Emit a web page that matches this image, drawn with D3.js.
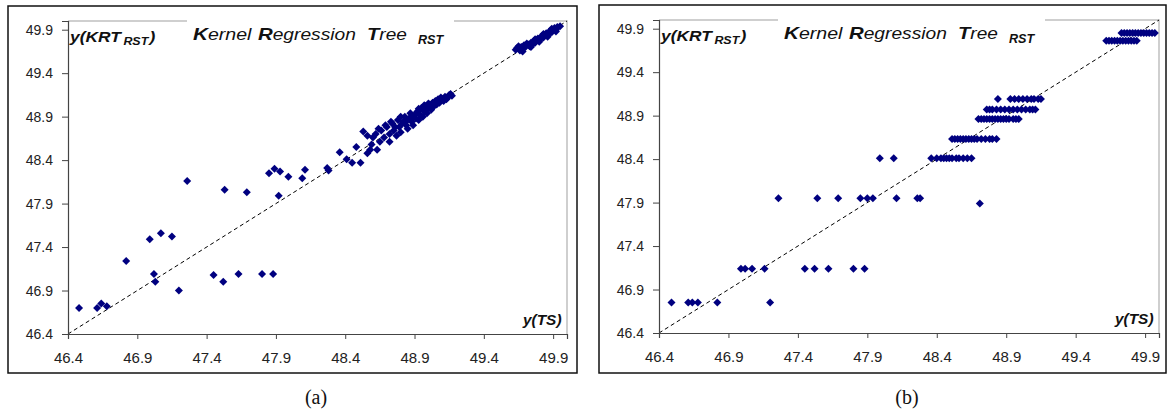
<!DOCTYPE html>
<html>
<head>
<meta charset="utf-8">
<script src="https://cdn.jsdelivr.net/npm/d3@7"></script>
<style>
  body { margin: 0; background: #fff; }
  svg text { font-family: "Liberation Sans", Arial, sans-serif; }
</style>
</head>
<body>
<div id="wrapper"></div>
<script>
// tick labels, shared by both axes of both panels
const tickValues = [46.4, 46.9, 47.4, 47.9, 48.4, 48.9, 49.4, 49.9]
const axisDomain = [46.4, 50.0]

// (a) pairs of [y(TS), y(KRT_RST)]
const pointsA = [
  [46.48, 46.70], [46.61, 46.70], [46.64, 46.75], [46.68, 46.72],
  [46.82, 47.24], [46.99, 47.49], [47.07, 47.56], [47.15, 47.52],
  [47.02, 47.09], [47.03, 47.00], [47.20, 46.90], [47.26, 48.16],
  [47.45, 47.08], [47.52, 47.00], [47.63, 47.09], [47.80, 47.09], [47.88, 47.09],
  [47.53, 48.06], [47.69, 48.03], [47.85, 48.25], [47.89, 48.30], [47.93, 48.27],
  [47.99, 48.21], [47.92, 47.99], [48.09, 48.19], [48.11, 48.29],
  [48.27, 48.31], [48.28, 48.28], [48.36, 48.49], [48.41, 48.41], [48.45, 48.37],
  [48.51, 48.37], [48.48, 48.55], [48.56, 48.48], [48.58, 48.52], [48.63, 48.52],
  [48.59, 48.58], [48.65, 48.61], [48.72, 48.61],
  // dense middle band
  [48.53, 48.73], [48.56, 48.68], [48.60, 48.66], [48.62, 48.70], [48.64, 48.76],
  [48.66, 48.74], [48.68, 48.66], [48.69, 48.80], [48.70, 48.78], [48.72, 48.70],
  [48.73, 48.84], [48.74, 48.82], [48.75, 48.74], [48.76, 48.78], [48.77, 48.68],
  [48.78, 48.86], [48.79, 48.78], [48.80, 48.72], [48.80, 48.90], [48.81, 48.82],
  [48.82, 48.84], [48.83, 48.90], [48.84, 48.80], [48.85, 48.76], [48.85, 48.86],
  [48.86, 48.88], [48.87, 48.94], [48.88, 48.84], [48.89, 48.80], [48.89, 48.90],
  [48.90, 48.92], [48.91, 48.88], [48.92, 48.96], [48.93, 48.86], [48.93, 48.99],
  [48.94, 48.92], [48.95, 49.00], [48.96, 48.90], [48.97, 48.96], [48.97, 49.03],
  [48.98, 49.02], [48.99, 48.94], [49.00, 49.00], [49.00, 49.05], [49.01, 49.04],
  [49.02, 48.98], [49.03, 49.06], [49.04, 49.02], [49.05, 49.08], [49.06, 49.04],
  [49.07, 49.10], [49.08, 49.06], [49.09, 49.12], [49.10, 49.10], [49.11, 49.08],
  [49.12, 49.13], [49.13, 49.10], [49.14, 49.12], [49.15, 49.15], [49.16, 49.16],
  [49.17, 49.14],
  // upper cluster
  [49.63, 49.67], [49.64, 49.69], [49.66, 49.66], [49.67, 49.70], [49.68, 49.68],
  [49.69, 49.72], [49.70, 49.70], [49.72, 49.73], [49.73, 49.71], [49.74, 49.75],
  [49.75, 49.73], [49.76, 49.77], [49.77, 49.75], [49.78, 49.78], [49.79, 49.80],
  [49.80, 49.78], [49.81, 49.81], [49.82, 49.83], [49.83, 49.81], [49.84, 49.84],
  [49.85, 49.86], [49.86, 49.84], [49.87, 49.87], [49.88, 49.89], [49.89, 49.87],
  [49.90, 49.90], [49.91, 49.92], [49.92, 49.90], [49.93, 49.93], [49.95, 49.94],
  [49.65, 49.71], [49.68, 49.65], [49.71, 49.74], [49.74, 49.70], [49.77, 49.79],
  [49.80, 49.76], [49.83, 49.85], [49.86, 49.82], [49.89, 49.91], [49.92, 49.88]
]

// (b) rows of equal y(KRT_RST): each row lists its y(TS) values
const rowsB = [
  { y: 46.75, xs: [46.49, 46.61, 46.64, 46.68, 46.82, 47.20] },
  { y: 47.14, xs: [46.99, 47.02, 47.07, 47.16, 47.45, 47.52, 47.62, 47.80, 47.88] },
  { y: 47.89, xs: [48.71] },
  { y: 47.95, xs: [47.26, 47.54, 47.69, 47.85, 47.90, 47.94, 48.11, 48.26, 48.28] },
  { y: 48.41, xs: [47.99, 48.09, 48.36, 48.40, 48.43, 48.45, 48.47, 48.49, 48.51, 48.54, 48.56, 48.59, 48.62, 48.65] },
  { y: 48.63, xs: [48.51, 48.53, 48.55, 48.57, 48.59, 48.61, 48.63, 48.65, 48.67, 48.69, 48.72, 48.75, 48.78, 48.80, 48.83] },
  { y: 48.86, xs: [48.70, 48.72, 48.74, 48.76, 48.78, 48.80, 48.82, 48.84, 48.86, 48.88, 48.90, 48.92, 48.95, 48.97, 48.99] },
  { y: 48.97, xs: [48.76, 48.78, 48.80, 48.83, 48.86, 48.89, 48.92, 48.95, 48.98, 49.01, 49.04, 49.07, 49.09, 49.11] },
  { y: 49.09, xs: [48.84, 48.93, 48.96, 48.99, 49.02, 49.05, 49.08, 49.10, 49.13, 49.15] },
  { y: 49.76, xs: [49.62, 49.64, 49.66, 49.68, 49.70, 49.72, 49.74, 49.76, 49.78, 49.80, 49.82, 49.84] },
  { y: 49.85, xs: [49.73, 49.75, 49.77, 49.79, 49.81, 49.83, 49.85, 49.87, 49.89, 49.91, 49.93, 49.95, 49.97] }
]
const pointsB = rowsB.flatMap(r => r.xs.map(x => [x, r.y]))

const captions = ["(a)", "(b)"]

async function drawChart() {
  const width = 1168
  const height = 411

  const wrapper = d3.select("#wrapper")
    .append("svg")
      .attr("width", width)
      .attr("height", height)

  // panel layouts
  const panels = [
    { box: { x: 8, y: 6, w: 569, h: 367 }, plot: { x: 68, y: 21, w: 499, h: 313 }, points: pointsA, caption: captions[0], captionX: 316 },
    { box: { x: 599, y: 5, w: 567, h: 368 }, plot: { x: 659, y: 20, w: 500, h: 313 }, points: pointsB, caption: captions[1], captionX: 907 },
  ]

  panels.forEach(p => drawPanel(wrapper, p))

  // text stretched horizontally to a given width, like the original picture
  function stretchedText(parent, x, y, targetWidth, anchorEnd) {
    const g = parent.append("g")
    const t = g.append("text")
      .attr("fill", "#111")
      .style("font-style", "italic")
    return {
      text: t,
      fit() {
        const w = t.node().getBBox().width
        const sx = targetWidth / w
        const x0 = anchorEnd ? x - targetWidth : x
        g.attr("transform", `translate(${x0}, ${y}) scale(${sx}, 1)`)
      }
    }
  }

  function drawPanel(svg, opt) {
    const { box, plot, points, caption, captionX } = opt

    // outer frame
    svg.append("rect")
      .attr("x", box.x)
      .attr("y", box.y)
      .attr("width", box.w)
      .attr("height", box.h)
      .attr("fill", "none")
      .attr("stroke", "#111")
      .attr("stroke-width", 1.5)

    const bounds = svg.append("g")
      .attr("transform", `translate(${plot.x}, ${plot.y})`)

    const xScale = d3.scaleLinear()
      .domain(axisDomain)
      .range([0, plot.w])
    const yScale = d3.scaleLinear()
      .domain(axisDomain)
      .range([plot.h, 0])

    // gray top and right frame of the plot area
    bounds.append("path")
      .attr("d", `M0,0H${plot.w}V${plot.h}`)
      .attr("fill", "none")
      .attr("stroke", "#c0c0c0")
      .attr("stroke-width", 1.5)

    // diagonal y = x
    bounds.append("line")
      .attr("x1", xScale(axisDomain[0]))
      .attr("y1", yScale(axisDomain[0]))
      .attr("x2", xScale(axisDomain[1]))
      .attr("y2", yScale(axisDomain[1]))
      .attr("stroke", "#000")
      .attr("stroke-width", 1)
      .attr("stroke-dasharray", "4,3")

    // diamonds
    const diamond = d3.symbol(d3.symbolSquare, 32)
    bounds.selectAll(".dot")
      .data(points)
      .join("path")
        .attr("class", "dot")
        .attr("d", diamond)
        .attr("transform", d => `translate(${xScale(d[0])}, ${yScale(d[1])}) rotate(45)`)
        .attr("fill", "#000080")

    // axes
    const fmt = d3.format(".1f")
    const xAxis = bounds.append("g")
      .attr("transform", `translate(0, ${plot.h})`)
      .call(d3.axisBottom(xScale).tickValues(tickValues).tickFormat(fmt).tickSizeOuter(0).tickSize(5).tickPadding(13))
    const yAxis = bounds.append("g")
      .call(d3.axisLeft(yScale).tickValues(tickValues).tickFormat(fmt).tickSizeOuter(0).tickSize(6).tickPadding(9))

    ;[xAxis, yAxis].forEach(a => {
      a.select(".domain").attr("stroke", "#444").attr("stroke-width", 1.2)
      a.selectAll(".tick line").attr("stroke", "#444")
      a.selectAll(".tick text")
        .attr("fill", "#222")
        .style("font-family", "'Liberation Sans', Arial, sans-serif")
    })
    xAxis.selectAll(".tick text").style("font-size", "15px")
    yAxis.selectAll(".tick text").style("font-size", "14px")

    // title, with white background hiding the frame line
    bounds.append("rect")
      .attr("x", 119)
      .attr("y", -8)
      .attr("width", 267)
      .attr("height", 36)
      .attr("fill", "#fff")

    const titleWords = [
      { head: "K", rest: "ernel", x: 125, w: 59 },
      { head: "R", rest: "egression", x: 190, w: 98 },
      { head: "T", rest: "ree", x: 299, w: 40 },
    ]
    titleWords.forEach(word => {
      const s = stretchedText(bounds, word.x, 19, word.w)
      s.text.style("font-size", "16px")
      s.text.append("tspan").style("font-weight", "bold").style("font-size", "17px").text(word.head)
      s.text.append("tspan").text(word.rest)
      s.fit()
    })
    const sub = stretchedText(bounds, 350, 23, 27)
    sub.text.style("font-size", "12px").style("font-weight", "bold").text("RST")
    sub.fit()

    // y label inside the top left corner
    const yLabel = stretchedText(bounds, 2, 21, 87)
    yLabel.text.style("font-size", "14px").style("font-weight", "bold")
    yLabel.text.append("tspan").text("y(KRT")
    yLabel.text.append("tspan").attr("dy", 3).attr("dx", 2).style("font-size", "10px").text("RST")
    yLabel.text.append("tspan").attr("dy", -3).attr("dx", 1).text(")")
    yLabel.fit()

    // x label in the bottom right corner
    const xLabel = stretchedText(bounds, plot.w - 4, plot.h - 9, 40, true)
    xLabel.text.style("font-size", "14px").style("font-weight", "bold").text("y(TS)")
    xLabel.fit()

    // caption under the frame
    svg.append("text")
      .attr("x", captionX)
      .attr("y", 404)
      .attr("text-anchor", "middle")
      .style("font-family", "'Liberation Serif', 'Times New Roman', serif")
      .style("font-size", "20px")
      .attr("fill", "#111")
      .text(caption)
  }
}
drawChart()
</script>
</body>
</html>
